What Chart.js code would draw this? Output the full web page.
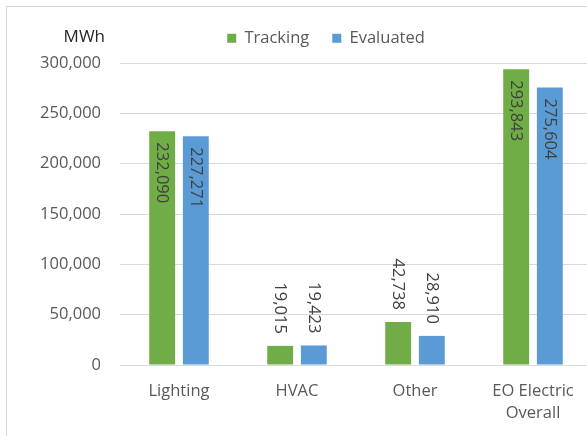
<!DOCTYPE html>
<html>
<head>
<meta charset="utf-8">
<script src="https://cdn.jsdelivr.net/npm/chart.js@4"></script>
<style>
  html, body { margin: 0; padding: 0; background: #fff; }
  body { width: 587px; height: 436px; overflow: hidden; position: relative; }
  #frame { position: absolute; left: 6px; top: 6px; width: 700px; height: 500px;
           border-left: 1px solid #d9d9d9; border-top: 1px solid #d9d9d9; box-sizing: border-box; }
  #wrap { position: absolute; left: 0; top: 0; width: 600px; height: 436px; }
  canvas { display: block; }
</style>
</head>
<body>
<div id="frame"></div>
<div id="wrap"><canvas id="c" width="600" height="436"></canvas></div>
<script>
// Energy savings by end use, MWh
const categories = [['Lighting'], ['HVAC'], ['Other'], ['EO Electric', 'Overall']];
const tracking  = [232090, 19015, 42738, 293843];
const evaluated = [227271, 19423, 28910, 275604];
const yTicks = [0, 50000, 100000, 150000, 200000, 250000, 300000];

const FONT = "'Open Sans', sans-serif";
const SIZE = 16.5;
const fmt = v => v.toLocaleString('en-US');

// Value labels drawn vertically, inside the bar top when they fit, otherwise above it
const barLabels = {
  id: 'barLabels',
  afterDatasetsDraw(chart) {
    const ctx = chart.ctx;
    ctx.save();
    ctx.font = SIZE + 'px ' + FONT;
    ctx.fillStyle = '#404040';
    ctx.textBaseline = 'middle';
    chart.data.datasets.forEach((ds, i) => {
      chart.getDatasetMeta(i).data.forEach((bar, j) => {
        const text = fmt(ds.data[j]);
        const w = ctx.measureText(text).width;
        const h = bar.base - bar.y;
        ctx.save();
        ctx.translate(bar.x, bar.y);
        ctx.rotate(Math.PI / 2);
        if (h > w + 20) {
          ctx.textAlign = 'left';
          ctx.fillText(text, 11, 0);
        } else {
          ctx.textAlign = 'right';
          ctx.fillText(text, -12, 0);
        }
        ctx.restore();
      });
    });
    ctx.restore();
  }
};

// Legend block: fixed height and a slight shift to the right of the canvas centre
const legendPlacement = {
  id: 'legendPlacement',
  afterInit(chart) {
    const lg = chart.legend;
    const fit = lg.fit;
    lg.fit = function () { fit.call(this); this.height = 56; };
  },
  afterLayout(chart) {
    const lg = chart.legend;
    lg.left += 30;
    lg.right += 30;
  }
};

// Unit caption above the value axis
const unitCaption = {
  id: 'unitCaption',
  afterDraw(chart) {
    const ctx = chart.ctx;
    ctx.save();
    ctx.font = '17px ' + FONT;
    ctx.fillStyle = '#262626';
    ctx.textAlign = 'right';
    ctx.textBaseline = 'middle';
    ctx.fillText('MWh', 105, 37);
    ctx.restore();
  }
};

new Chart(document.getElementById('c'), {
  type: 'bar',
  data: {
    labels: categories,
    datasets: [
      { label: 'Tracking', data: tracking, backgroundColor: '#70AD47' },
      { label: 'Evaluated', data: evaluated, backgroundColor: '#5B9BD5' }
    ]
  },
  options: {
    responsive: false,
    animation: false,
    devicePixelRatio: 1,
    layout: { padding: { left: 0, right: 8, top: 7, bottom: 0 } },
    categoryPercentage: 0.57,
    barPercentage: 0.77,
    plugins: {
      legend: {
        position: 'top',
        labels: {
          boxWidth: 9, boxHeight: 9, padding: 23,
          color: '#595959', font: { family: FONT, size: SIZE }
        }
      },
      tooltip: { enabled: false }
    },
    scales: {
      x: {
        grid: { display: false, drawTicks: false },
        border: { display: false },
        ticks: {
          color: '#595959', padding: 15,
          font: { family: FONT, size: SIZE, lineHeight: 1.35 },
          maxRotation: 0, autoSkip: false
        },
        afterFit(scale) { scale.height = 71; }
      },
      y: {
        min: 0, max: 300000,
        afterBuildTicks(scale) { scale.ticks = yTicks.map(v => ({ value: v })); },
        grid: { color: '#d9d9d9', lineWidth: 1, drawTicks: false },
        border: { display: false },
        ticks: {
          color: '#595959', padding: 19,
          font: { family: FONT, size: SIZE },
          callback: v => fmt(v)
        },
        afterFit(scale) { scale.width = 120; }
      }
    }
  },
  plugins: [barLabels, legendPlacement, unitCaption]
});
</script>
</body>
</html>
